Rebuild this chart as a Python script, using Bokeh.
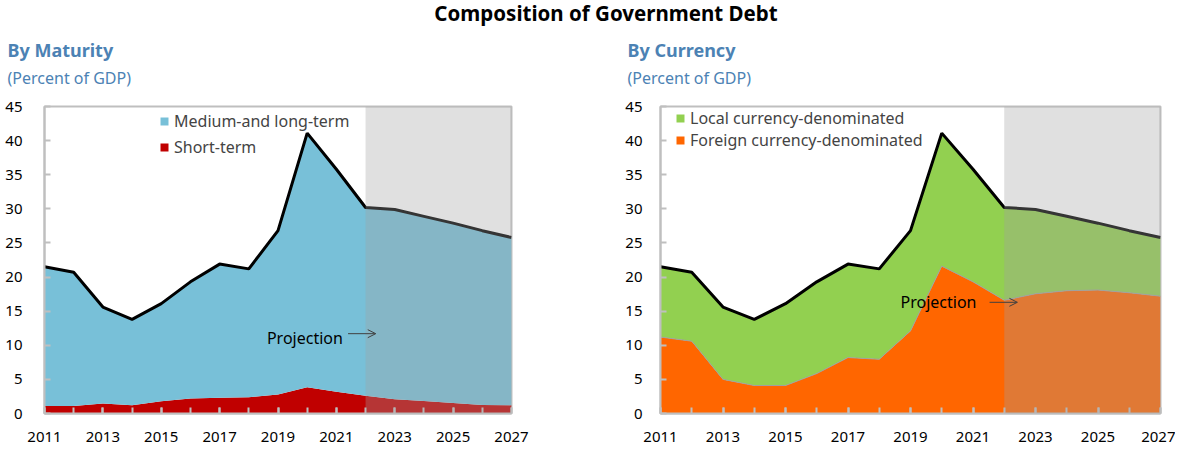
from bokeh.plotting import figure
from bokeh.models import (BoxAnnotation, Arrow, OpenHead, Label, Legend, LegendItem,
                          Title, FixedTicker, Div, Range1d, ColumnDataSource)
from bokeh.layouts import column, row
from bokeh.embed import file_html
from bokeh.resources import INLINE

FONT = "Noto Sans"

years = list(range(2011, 2028))
# By maturity (percent of GDP)
short_term = [1.1, 1.1, 1.45, 1.2, 1.8, 2.2, 2.3, 2.4, 2.8, 3.85, 3.2, 2.6, 2.1, 1.85, 1.55, 1.25, 1.2]
medium_long = [20.4, 19.6, 14.15, 12.6, 14.3, 17.1, 19.6, 18.8, 24.0, 37.25, 32.6, 27.6, 27.8, 27.05, 26.35, 25.55, 24.6]
# By currency (percent of GDP)
foreign_cur = [11.2, 10.6, 5.0, 4.1, 4.1, 5.85, 8.2, 7.95, 12.1, 21.6, 19.3, 16.6, 17.55, 18.0, 18.1, 17.7, 17.2]
local_cur = [10.3, 10.1, 10.6, 9.7, 12.0, 13.45, 13.7, 13.25, 14.7, 19.5, 16.5, 13.6, 12.35, 10.9, 9.8, 9.1, 8.6]

x_major = [2011, 2013, 2015, 2017, 2019, 2021, 2023, 2025, 2027]
y_ticks = [0, 5, 10, 15, 20, 25, 30, 35, 40, 45]
projection_start = 2022

GREY = "#BFBFBF"
TITLE_BLUE = "#4C82B4"


def make_panel(title, bottom_vals, top_vals, bottom_name, top_name, bottom_color, top_color,
               width, border_left, border_right, title_offset, y_standoff, legend_loc,
               legend_spacing, proj_text_pos, arrow_pos, boundary_line):
    total = [a + b for a, b in zip(bottom_vals, top_vals)]
    src = ColumnDataSource(dict(year=years, b=bottom_vals, t=top_vals, total=total,
                                zero=[0] * len(years)))
    p = figure(width=width, height=425, output_backend="svg", toolbar_location=None,
               title=None, x_range=Range1d(2011, 2027), y_range=Range1d(0, 45),
               min_border_left=border_left, min_border_right=border_right,
               min_border_top=80, min_border_bottom=38)
    p.add_layout(Title(text="(Percent of GDP)", text_font=FONT, text_font_size="16px",
                       text_font_style="normal", text_color=TITLE_BLUE, align="left",
                       offset=title_offset, standoff=36), "above")
    p.add_layout(Title(text=title, text_font=FONT, text_font_size="18px",
                       text_font_style="bold", text_color=TITLE_BLUE, align="left",
                       offset=title_offset, standoff=-31), "above")
    p.grid.visible = False
    p.outline_line_color = GREY
    p.outline_line_width = 2
    p.background_fill_color = "white"
    p.border_fill_color = "white"

    r_b = p.varea(x="year", y1="zero", y2="b", source=src, fill_color=bottom_color)
    r_t = p.varea(x="year", y1="b", y2="total", source=src, fill_color=top_color)
    if boundary_line:
        p.line(x="year", y="b", source=src, line_color="#A0A0A0", line_width=1)
    p.line(x="year", y="total", source=src, line_color="black", line_width=3)

    p.add_layout(BoxAnnotation(left=projection_start, right=2027, fill_color=(160, 160, 160),
                               fill_alpha=0.33, line_alpha=0))

    legend = Legend(items=[LegendItem(label=top_name, renderers=[r_t]),
                           LegendItem(label=bottom_name, renderers=[r_b])],
                    location=legend_loc, padding=0, margin=0, spacing=legend_spacing,
                    glyph_width=10, glyph_height=10, label_height=18, label_standoff=5,
                    label_text_font=FONT, label_text_font_size="16px",
                    background_fill_alpha=0, border_line_alpha=0)
    p.add_layout(legend)

    p.add_layout(Label(x=proj_text_pos[0], y=proj_text_pos[1], text="Projection",
                       text_font=FONT, text_font_size="16px", text_color="black",
                       text_baseline="middle", text_align="left"))
    p.add_layout(Arrow(end=OpenHead(size=8, line_width=1, line_color="#404040"),
                       x_start=arrow_pos[0], y_start=arrow_pos[1],
                       x_end=arrow_pos[2], y_end=arrow_pos[1],
                       line_width=1, line_color="#404040"))

    xa = p.xaxis[0]
    xa.ticker = FixedTicker(ticks=x_major, minor_ticks=years)
    xa.major_tick_in = 6
    xa.major_tick_out = 0
    xa.minor_tick_in = 6
    xa.minor_tick_out = 0
    xa.major_tick_line_color = GREY
    xa.minor_tick_line_color = GREY
    xa.major_tick_line_width = 2
    xa.minor_tick_line_width = 2
    xa.axis_line_color = GREY
    xa.axis_line_width = 2
    xa.major_label_standoff = 18
    xa.major_label_text_font = FONT
    xa.major_label_text_font_size = "15px"
    xa.major_label_text_color = "black"

    ya = p.yaxis[0]
    ya.ticker = FixedTicker(ticks=y_ticks)
    ya.major_tick_in = 6
    ya.major_tick_out = 0
    ya.minor_tick_line_color = None
    ya.major_tick_line_color = GREY
    ya.major_tick_line_width = 2
    ya.axis_line_color = GREY
    ya.axis_line_width = 2
    ya.major_label_standoff = y_standoff
    ya.major_label_text_font = FONT
    ya.major_label_text_font_size = "15px"
    ya.major_label_text_color = "black"
    return p


p1 = make_panel("By Maturity", short_term, medium_long, "Short-term", "Medium-and long-term",
                "#C00000", "#78C0D8", width=619, border_left=44, border_right=108,
                title_offset=-37, y_standoff=22,
                legend_loc=(115, 255), legend_spacing=4,
                proj_text_pos=(2018.62, 11.0), arrow_pos=(2021.4, 11.7, 2022.35),
                boundary_line=False)
p2 = make_panel("By Currency", foreign_cur, local_cur, "Foreign currency-denominated",
                "Local currency-denominated", "#FF6600", "#92D050",
                width=556, border_left=41, border_right=15,
                title_offset=-33, y_standoff=18,
                legend_loc=(15, 262), legend_spacing=-1,
                proj_text_pos=(2018.68, 16.3), arrow_pos=(2021.53, 16.3, 2022.42),
                boundary_line=True)

title = Div(text='<div style="width:1168px;text-align:center;font-weight:bold;'
                 'font-size:20.5px;font-family:\'Noto Sans\';color:black;line-height:16px;'
                 'position:relative;left:17px;">'
                 'Composition of Government Debt</div>',
            width=1168, height=16)

layout = column(title, row(p1, p2, spacing=0), spacing=0)
open("out.html", "w").write(file_html(layout, INLINE))
